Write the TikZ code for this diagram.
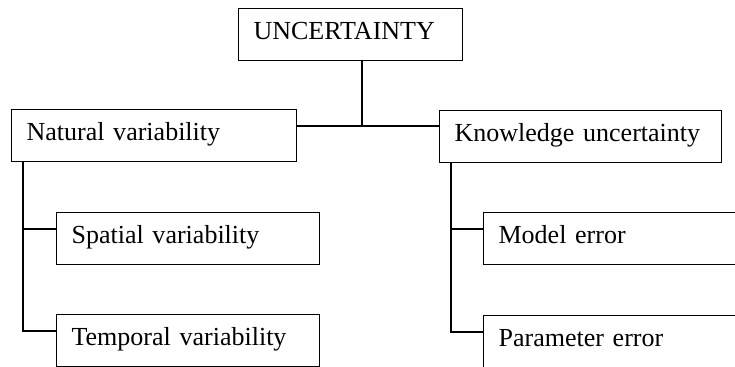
\documentclass[tikz,border=0pt]{standalone}
\usepackage{fontspec}
\setmainfont{Liberation Serif}
\usetikzlibrary{positioning, calc}

\begin{document}
\begin{tikzpicture}[
  x=0.025cm, y=-0.025cm,
  font=\fontsize{18.5}{22}\selectfont,
  line width=0.8pt,
  catbox/.style={draw, anchor=north west, align=left,
                 text width=#1, inner xsep=0.375cm, inner ysep=0pt,
                 minimum height=1.29cm, text height=0.95em, text depth=0.22em},
  link/.style={draw, line width=0.8pt},
]

%% frame of the picture (boxes on the right run past the edge)
\path[use as bounding box, clip] (0,0) rectangle (735,367);

%% Top level
\node[catbox=4.85cm]  (unc)  at (238,8)   {UNCERTAINTY};

%% Second level
\node[catbox=6.38cm]  (nat)  at (11,109)  {Natural variability};
\node[catbox=6.30cm]  (know) at (439,110) {Knowledge uncertainty};

%% Third level
\node[catbox=5.83cm]  (spat)  at (56,212)  {Spatial variability};
\node[catbox=5.83cm]  (temp)  at (56,314)  {Temporal variability};
\node[catbox=5.83cm]  (model) at (483,212) {Model error};
\node[catbox=5.83cm]  (param) at (483,315) {Parameter error};

%% Junctions
\coordinate (hub)       at (362,126);
\coordinate (natspine)  at ($(nat.south west)+(12,0)$);
\coordinate (knowspine) at ($(know.south west)+(12,0)$);

%% Connectors
\draw[link] (unc.south -| hub) -- (hub);
\draw[link] (nat.east |- hub) -- (know.west |- hub);
\foreach \kid in {spat,temp}{
  \draw[link] (natspine) |- ($(\kid.north west)+(0,17)$);
}
\foreach \kid in {model,param}{
  \draw[link] (knowspine) |- ($(\kid.north west)+(0,17)$);
}

\end{tikzpicture}
\end{document}
